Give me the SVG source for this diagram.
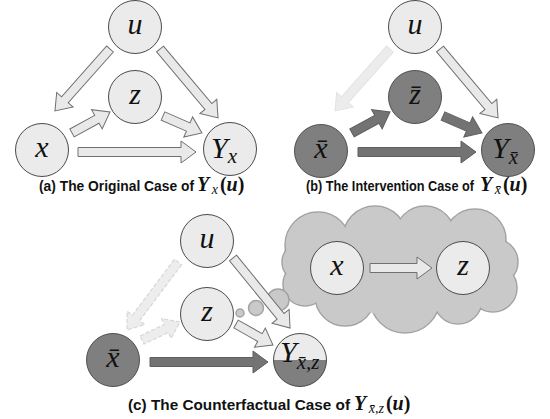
<svg xmlns="http://www.w3.org/2000/svg" width="550" height="419" viewBox="0 0 550 419">
<style>
.nl{fill:#ebebeb;stroke:#4a4a4a;stroke-width:1}
.nd{fill:#7f7f7f;stroke:#505050;stroke-width:1}
.lab{font-family:"Liberation Serif","DejaVu Serif",serif;font-style:italic;font-size:30px;fill:#111}
.sub{font-size:21px}
.al{fill:#e9e9e9;stroke:#707070;stroke-width:1}
.ad{fill:#737373;stroke:#5f5f5f;stroke-width:1}
.af{fill:#ececec;stroke:#e2e2e2;stroke-width:1}
.afd{fill:#ededed;stroke:#d6d6d6;stroke-width:1.2;stroke-dasharray:4 2}
.cap{font-family:"Liberation Sans","Arial",sans-serif;font-weight:bold;font-size:15px;fill:#111}
.capm{font-family:"Liberation Serif","DejaVu Serif",serif;font-weight:bold;font-size:20px;fill:#111}
.it{font-style:italic}
.cs{font-size:14px;font-weight:normal;font-style:italic}
.cl{fill:#c9c9c9;stroke:#a3a3a3;stroke-width:1.5}
.clf{fill:#c9c9c9}
</style>

<!-- cloud (thought) -->
<g id="cloud">
  <g class="cl">
    <circle cx="318" cy="245" r="33"/>
    <circle cx="375" cy="238" r="32"/>
    <circle cx="425" cy="236" r="30"/>
    <circle cx="475" cy="240" r="31"/>
    <circle cx="495" cy="262" r="23"/>
    <circle cx="493" cy="288" r="24"/>
    <circle cx="458" cy="300" r="24"/>
    <circle cx="405" cy="298" r="35"/>
    <circle cx="345" cy="296" r="30"/>
    <circle cx="305" cy="284" r="22"/>
    <circle cx="302" cy="262" r="20"/>
  </g>
  <g class="clf">
    <circle cx="318" cy="245" r="32.2"/>
    <circle cx="375" cy="238" r="31.2"/>
    <circle cx="425" cy="236" r="29.2"/>
    <circle cx="475" cy="240" r="30.2"/>
    <circle cx="495" cy="262" r="22.2"/>
    <circle cx="493" cy="288" r="23.2"/>
    <circle cx="458" cy="300" r="23.2"/>
    <circle cx="405" cy="298" r="34.2"/>
    <circle cx="345" cy="296" r="29.2"/>
    <circle cx="305" cy="284" r="21.2"/>
    <circle cx="302" cy="262" r="19.2"/>
    <ellipse cx="400" cy="270" rx="95" ry="45"/>
  </g>
  <circle class="cl" cx="240" cy="313" r="4"/>
  <circle class="cl" cx="256" cy="308" r="7.5"/>
  <circle class="cl" cx="278" cy="300" r="11"/>
</g>

<!-- connectors -->
<g id="connectors">
  <!-- (a) -->
  <polygon class="al" points="0,-4.5 67.9,-4.5 67.9,-11 82.9,0 67.9,11 67.9,4.5 0,4.5" transform="translate(110,49) rotate(131.6)"/>
  <polygon class="al" points="0,-4.5 75.1,-4.5 75.1,-11 90.1,0 75.1,11 75.1,4.5 0,4.5" transform="translate(160,49) rotate(49.9)"/>
  <polygon class="al" points="0,-4.5 28.4,-4.5 28.4,-11 43.4,0 28.4,11 28.4,4.5 0,4.5" transform="translate(72,133) rotate(-28.9)"/>
  <polygon class="al" points="0,-4.5 27.5,-4.5 27.5,-11 42.5,0 27.5,11 27.5,4.5 0,4.5" transform="translate(163,116) rotate(23.6)"/>
  <polygon class="al" points="0,-4.5 103,-4.5 103,-11 118,0 103,11 103,4.5 0,4.5" transform="translate(78,152)"/>
  <!-- (b) -->
  <polygon class="af" points="0,-4.5 67.9,-4.5 67.9,-11 82.9,0 67.9,11 67.9,4.5 0,4.5" transform="translate(390,49) rotate(131.6)"/>
  <polygon class="al" points="0,-4.5 75.1,-4.5 75.1,-11 90.1,0 75.1,11 75.1,4.5 0,4.5" transform="translate(440,49) rotate(49.9)"/>
  <polygon class="ad" points="0,-4.5 28.4,-4.5 28.4,-11 43.4,0 28.4,11 28.4,4.5 0,4.5" transform="translate(352,133) rotate(-28.9)"/>
  <polygon class="ad" points="0,-4.5 27.5,-4.5 27.5,-11 42.5,0 27.5,11 27.5,4.5 0,4.5" transform="translate(443,116) rotate(23.6)"/>
  <polygon class="ad" points="0,-4.5 103,-4.5 103,-11 118,0 103,11 103,4.5 0,4.5" transform="translate(358,152)"/>
  <!-- (c) -->
  <polygon class="afd" points="0,-4.5 70,-4.5 70,-11 85,0 70,11 70,4.5 0,4.5" transform="translate(178,262) rotate(126.9)"/>
  <polygon class="afd" points="0,-4.5 27,-4.5 27,-11 42,0 27,11 27,4.5 0,4.5" transform="translate(142,340) rotate(-25.3)"/>
  <polygon class="al" points="0,-4.5 75.3,-4.5 75.3,-11 90.3,0 75.3,11 75.3,4.5 0,4.5" transform="translate(233,258) rotate(50.8)"/>
  <polygon class="al" points="0,-4.5 27.5,-4.5 27.5,-11 42.5,0 27.5,11 27.5,4.5 0,4.5" transform="translate(236,324) rotate(29.6)"/>
  <polygon class="ad" points="0,-4.5 103,-4.5 103,-11 118,0 103,11 103,4.5 0,4.5" transform="translate(150,362)"/>
  <polygon class="al" points="0,-4.5 47,-4.5 47,-11 62,0 47,11 47,4.5 0,4.5" transform="translate(370,268)"/>
</g>

<!-- (a) nodes -->
<g id="a-u"><circle class="nl" cx="135" cy="27" r="26.5"/><text class="lab" x="135" y="34" text-anchor="middle">u</text></g>
<g id="a-z"><circle class="nl" cx="135" cy="97" r="26.5"/><text class="lab" x="135" y="104" text-anchor="middle">z</text></g>
<g id="a-x"><circle class="nl" cx="42" cy="150" r="26.5"/><text class="lab" x="42" y="157" text-anchor="middle">x</text></g>
<g id="a-y"><circle class="nl" cx="230" cy="149" r="26.5"/><text class="lab" x="211" y="158">Y<tspan class="sub" dy="5">x</tspan></text></g>

<!-- (b) nodes -->
<g id="b-u"><circle class="nl" cx="415" cy="27" r="26.5"/><text class="lab" x="415" y="34" text-anchor="middle">u</text></g>
<g id="b-z"><circle class="nd" cx="415" cy="97" r="26.5"/><text class="lab" x="415" y="104" text-anchor="middle">z̄</text></g>
<g id="b-x"><circle class="nd" cx="321" cy="151" r="26.5"/><text class="lab" x="321" y="158" text-anchor="middle">x̄</text></g>
<g id="b-y"><circle class="nd" cx="508" cy="150" r="26.5"/><text class="lab" x="492" y="158">Y<tspan class="sub" dy="6">x̄</tspan></text></g>

<!-- (c) nodes -->
<g id="c-u"><circle class="nl" cx="207" cy="241" r="26.5"/><text class="lab" x="207" y="248" text-anchor="middle">u</text></g>
<g id="c-z"><circle class="nl" cx="207" cy="314" r="26.5"/><text class="lab" x="207" y="321" text-anchor="middle">z</text></g>
<g id="c-x"><circle class="nd" cx="113" cy="360" r="26.5"/><text class="lab" x="113" y="367" text-anchor="middle">x̄</text></g>
<g id="c-y">
  <circle cx="300" cy="360" r="26.5" fill="#ebebeb"/>
  <path d="M273.5,360 A26.5,26.5 0 0 0 326.5,360 Z" fill="#7f7f7f"/>
  <circle cx="300" cy="360" r="26.5" fill="none" stroke="#4a4a4a" stroke-width="1"/>
  <text class="lab" x="280" y="362">Y<tspan class="sub" dy="7">x̄,z</tspan></text>
</g>
<g id="c-cx"><circle class="nl" cx="337" cy="268" r="26.5"/><text class="lab" x="337" y="275" text-anchor="middle">x</text></g>
<g id="c-cz"><circle class="nl" cx="463" cy="268" r="26.5"/><text class="lab" x="463" y="275" text-anchor="middle">z</text></g>

<!-- captions -->
<g id="cap-a">
  <text class="cap" x="39" y="191" textLength="155" lengthAdjust="spacingAndGlyphs">(a) The Original Case of</text>
  <text class="capm" x="197" y="191"><tspan class="it">Y</tspan><tspan class="cs" dx="2.5" dy="3">x</tspan><tspan dx="2" dy="-3">(</tspan><tspan class="it">u</tspan>)</text>
</g>
<g id="cap-b">
  <text class="cap" x="306" y="191" textLength="168" lengthAdjust="spacingAndGlyphs">(b) The Intervention Case of</text>
  <text class="capm" x="480" y="191"><tspan class="it">Y</tspan><tspan class="cs" dx="2.5" dy="3">x̄</tspan><tspan dx="2" dy="-3">(</tspan><tspan class="it">u</tspan>)</text>
</g>
<g id="cap-c">
  <text class="cap" x="128" y="410" textLength="222" lengthAdjust="spacingAndGlyphs">(c) The Counterfactual Case of</text>
  <text class="capm" x="354" y="410"><tspan class="it">Y</tspan><tspan class="cs" dx="2.5" dy="3">x̄,z</tspan><tspan dx="2" dy="-3">(</tspan><tspan class="it">u</tspan>)</text>
</g>
</svg>
